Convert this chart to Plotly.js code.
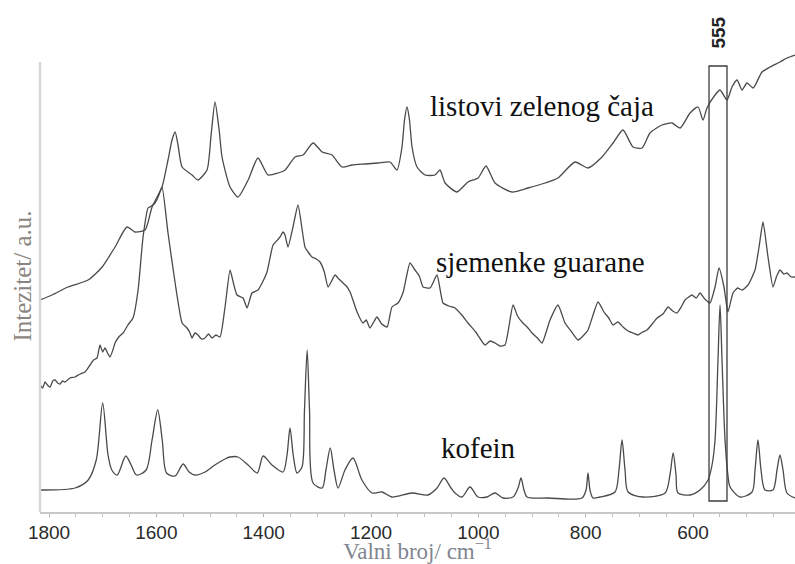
<!DOCTYPE html>
<html>
<head>
<meta charset="utf-8">
<script src="https://cdn.plot.ly/plotly-3.0.1.min.js"></script>
<style>html,body{margin:0;padding:0;background:#fff;}#chart{width:795px;height:564px;}</style>
</head>
<body>
<div id="chart"></div>
<script>
// Wavenumbers (cm^-1) and relative intensities (a.u., offset stacked)
const kofeinX = [1816.8,1751.6,1727,1712,1700,1690,1683,1673,1657,1647,1637,1619,1608,1597.5,1589,1581,1565,1550,1539,1528,1509,1491,1472,1463,1448,1429,1412,1401,1384.5,1364,1356.5,1351,1345,1338,1328.6,1324,1319,1314.6,1308,1291,1284,1276,1269,1261.5,1248.5,1233.6,1217,1198,1179.5,1161,1123.6,1094,1077,1064,1051,1043.5,1030.5,1015.6,1000.6,984,969,954,935.4,926,920.5,915,909.3,870,807,799.4,795.7,792,786.4,773.3,745.4,738,732.3,726.7,721,693,652,643,637,631.7,628,605.6,587,572,564.6,559,553.5,549.7,546,540.4,535,531,512.5,490,484.5,479,473.3,466,451,443.5,438,432.3,425,410];
const kofeinY = [22,24,32,52,109,57,42,37,56,47,37,42,72,102,72,39,36,48,40,37,40,47,53,55,55,47,39,56,47,40,57,84,57,39,45,102,162,102,29,24,42,64,42,24,42,54,32,19,20,15,19,17,24,34,24,19,15,25,15,15,19,14,15,24,34,22,15,14,14,22,39,22,14,15,20,42,72,42,20,15,19,37,59,37,19,17,22,32,47,72,152,207,152,72,37,25,15,20,42,72,42,22,22,42,57,42,19,14];

const guaranaX = [1816.8,1812,1807.5,1803,1798,1793,1788.8,1784,1779.5,1775,1770.2,1761,1751.6,1742,1733,1723.6,1717,1710.6,1705,1700,1695.7,1690,1686.3,1681,1677,1670,1662,1653,1643.5,1634,1624.8,1615.5,1609,1602.5,1596,1589.4,1578.3,1565,1552,1542.9,1538,1533.5,1528,1522.4,1516,1509.3,1503,1496.3,1489,1481.4,1472,1462.7,1456,1449.7,1438.5,1431,1421.8,1410.6,1402,1393.8,1382.6,1376,1369.6,1364,1360.3,1354.7,1345.4,1336,1323,1316,1310,1302,1295,1287,1280,1267,1260,1254,1246,1239,1226,1215,1209,1202,1195,1189,1180,1170,1161,1149.7,1140,1127.4,1118,1110,1103,1090,1077,1065.9,1055,1043.5,1031,1019.3,1005,995,987.6,978,969,960,950.3,935.4,927,918.7,909,900,890,881.4,866.5,851.6,838.5,826,814.3,805,795.7,777,766,757,749,740,730.5,721,712,702.5,694,685.7,676,667,656,646.6,638,630,622,615,608,602,594,587,578,568.4,559,551.6,542.3,535,525.5,517,508.7,497.6,484.5,477,469.6,460.3,451,444,438,431,425,417,410];
const guaranaY = [127,124,130,127,125,131,132,129,128,131,130,134,135,138,140,147,152,154,167,160,164,158,155,162,169,175,179,187,194,222,275,304,306,309,316,325,279,229,189,184,180,174,179,177,173,174,178,174,177,175,205,242,228,217,214,204,219,222,230,240,267,271,275,280,277,265,285,307,265,259,255,253,250,240,225,237,233,230,226,220,200,189,192,184,190,195,188,185,205,209,220,249,242,236,225,224,237,209,206,204,197,189,180,172,167,171,169,166,167,207,196,190,185,179,174,169,192,207,189,180,172,176,182,210,200,194,187,190,185,181,179,177,180,182,188,194,198,205,201,199,205,212,215,217,214,219,213,209,225,244,225,200,219,224,222,227,242,265,290,255,225,236,242,238,239,235,235];

const cajX = [1816.8,1794.4,1764.6,1727.3,1701,1677,1654.7,1640,1621,1608,1589.4,1578.3,1570.8,1565,1559.6,1552,1533.5,1522.4,1505.6,1498,1490.7,1483,1477.6,1462.7,1447.8,1429,1410.6,1392,1373,1360,1341.6,1326.7,1308,1291,1272.7,1254,1235.4,1211,1187,1164.6,1151.6,1142.3,1137.6,1133,1128.3,1123.6,1114.3,1099.4,1080.8,1071.5,1062,1039.8,1019.3,1000.6,985.7,969,937.3,907.5,875.8,851.6,820,795.7,769.6,749,730.5,711.8,695,680.2,657.8,639,624,605.6,590.7,581.4,574,559,549.7,536.7,527.4,518,508.7,499.4,488,471.5,456.6,438,425,410];
const cajY = [212,217,225,232,245,265,285,280,282,305,325,352,372,380,367,345,337,332,342,377,410,382,355,325,315,332,354,337,339,342,355,357,369,360,357,345,347,348,349,350,342,365,392,405,392,365,345,337,337,342,329,320,330,334,346,329,320,324,329,334,350,344,355,369,382,365,364,379,387,389,384,399,405,392,404,417,422,412,425,432,422,429,424,440,445,450,454,457];

const xTickVals = [1800,1600,1400,1200,1000,800,600];
const xTickText = ['1800','1600','1400','1200','1000','800','600'];
const seriesNames = ['listovi zelenog čaja','sjemenke guarane','kofein'];

const serif = 'Liberation Serif';
const sans = 'Liberation Sans';

const traces = [
  {x:cajX, y:cajY, name:seriesNames[0], type:'scatter', mode:'lines', line:{color:'#4a4a4a', width:1.3, shape:'spline', smoothing:0.6}},
  {x:guaranaX, y:guaranaY, name:seriesNames[1], type:'scatter', mode:'lines', line:{color:'#4a4a4a', width:1.3, shape:'spline', smoothing:0.5}},
  {x:kofeinX, y:kofeinY, name:seriesNames[2], type:'scatter', mode:'lines', line:{color:'#4a4a4a', width:1.3, shape:'spline', smoothing:0.8}}
];

const labelFont = {family:serif, size:29, color:'#111111'};
const layout = {
  width:795, height:564,
  margin:{l:40, r:0, t:40, b:52},
  paper_bgcolor:'#ffffff', plot_bgcolor:'#ffffff',
  font:{family:serif, size:28, color:'#111111'},
  showlegend:false,
  xaxis:{
    range:[1816.8, 410],
    tickvals:xTickVals, ticktext:xTickText,
    ticks:'outside', ticklen:3, tickcolor:'#b0b0b0', tickwidth:1,
    minor:{dtick:50, ticks:'outside', ticklen:3, tickcolor:'#c0c0c0'},
    showline:true, linecolor:'#c8c8c8', linewidth:1.5,
    showgrid:false, zeroline:false,
    tickfont:{family:sans, size:19, color:'#2a2a2a'},
    title:{text:'Valni broj/ cm<sup>−1</sup>', font:{family:serif, size:23, color:'#7f8590'}, standoff:15}
  },
  yaxis:{
    range:[0, 472],
    showline:false, showgrid:false, zeroline:false,
    showticklabels:false, ticks:'',
    title:{text:'Intezitet/ a.u.', font:{family:serif, size:25, color:'#8a8580'}, standoff:0}
  },
  shapes:[
    {type:'line', xref:'paper', yref:'y', x0:0, x1:0, y0:0, y1:450, line:{color:'#d6d6d6', width:2.5}},
    {type:'rect', xref:'x', yref:'y', x0:570.2, x1:536.7, y0:11, y1:446, line:{color:'#3c3c3c', width:1.3}, fillcolor:'rgba(0,0,0,0)'}
  ],
  annotations:[
    {text:seriesNames[0], x:881, y:406, xref:'x', yref:'y', showarrow:false, font:labelFont},
    {text:seriesNames[1], x:885, y:250, xref:'x', yref:'y', showarrow:false, font:labelFont},
    {text:seriesNames[2], x:1000, y:64, xref:'x', yref:'y', showarrow:false, font:labelFont},
    {text:'<b>555</b>', x:551.6, y:1.054, xref:'x', yref:'paper', showarrow:false, textangle:-90, font:{family:sans, size:19, color:'#222222'}}
  ]
};

Plotly.newPlot('chart', traces, layout, {displayModeBar:false, staticPlot:true});
</script>
</body>
</html>
